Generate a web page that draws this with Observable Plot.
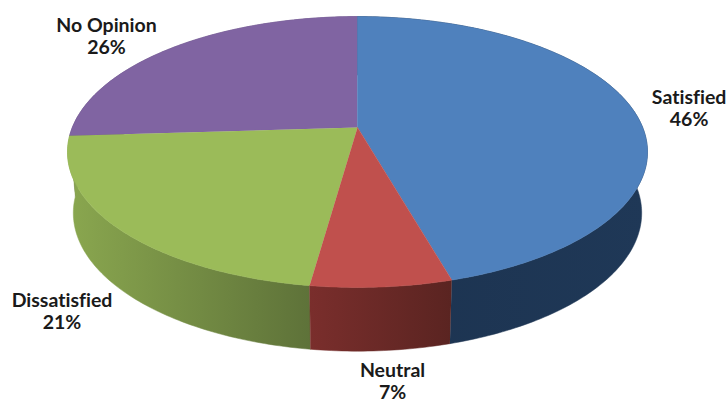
<!DOCTYPE html>
<html>
<head>
<meta charset="utf-8">
<style>html,body{margin:0;padding:0;background:#fff}svg{display:block}svg text{font-variant-ligatures:none}</style>
<script src="https://cdn.jsdelivr.net/npm/d3@7"></script>
<script src="https://cdn.jsdelivr.net/npm/@observablehq/plot@0.6"></script>
</head>
<body>
<div id="chart"></div>
<script>
// Data, clockwise from twelve o'clock
const categories = ["Satisfied", "Neutral", "Dissatisfied", "No Opinion"];
const labelValues = [46, 7, 21, 26];               // printed percentages
const sliceShares = [45.6, 6.6, 21.8, 26];         // slice sizes
const topColors = ["#4f81bd", "#c0504d", "#9bbb59", "#8064a2"];
const sideStops = [
  ["#1c3350", "#1f3857"],
  ["#7a2e2c", "#5a2421"],
  ["#8aa74f", "#5e7239"],
  ["#5f4a7a", "#5f4a7a"]
];

// Perspective view of the disc
const view = {cx: 357, cy: 127, a: 285.2, h: 131, k: 0.181,
              ellipseCy: 151.5, depthCy: 212.5, scaleX: 0.98, scaleY: 1.02};
const total = d3.sum(sliceShares);
const cuts = d3.cumsum([0, ...sliceShares]);

function topRim(share) {
  const t = (share / total) * 2 * Math.PI;
  const u = Math.sin(t), v = Math.cos(t), d = 1 + view.k * v;
  return {x: view.cx + view.a * u / d, y: view.cy - view.h * v / d};
}
function bottomRim(p) {
  return {x: view.cx + (p.x - view.cx) * view.scaleX,
          y: view.depthCy + (p.y - view.ellipseCy) * view.scaleY};
}
function arc(from, to) {
  const pts = [];
  const n = Math.max(2, Math.ceil((to - from) * 4));
  for (let i = 0; i <= n; ++i) pts.push(topRim(from + (to - from) * i / n));
  return pts;
}

const tops = categories.map((c, i) => [{x: view.cx, y: view.cy}, ...arc(cuts[i], cuts[i + 1])]);
const sides = categories.map((c, i) => {
  const a = arc(cuts[i], cuts[i + 1]);
  return [...a, ...a.slice().reverse().map(bottomRim)];
});

// Labels are anchored on the rim at each slice's mid-angle
const labelShift = [[56, -2], [11, 94], [-57, 82], [-66, -12]];
const labels = categories.map((c, i) => ({
  ...topRim(cuts[i] + sliceShares[i] / 2),
  text: `${c}\n${labelValues[i]}%`,
  dx: labelShift[i][0],
  dy: labelShift[i][1]
}));

const defs = () => {
  const ns = "http://www.w3.org/2000/svg";
  const d = document.createElementNS(ns, "defs");
  sideStops.forEach((stops, i) => {
    const g = document.createElementNS(ns, "linearGradient");
    g.setAttribute("id", `side${i}`);
    stops.forEach((color, j) => {
      const s = document.createElementNS(ns, "stop");
      s.setAttribute("offset", j);
      s.setAttribute("stop-color", color);
      g.appendChild(s);
    });
    d.appendChild(g);
  });
  return d;
};

const order = [3, 0, 2, 1];
const chart = Plot.plot({
  width: 727,
  height: 402,
  margin: 0,
  style: {background: "#fff"},
  x: {domain: [0, 727], range: [0, 727], axis: null},
  y: {domain: [0, 402], range: [0, 402], axis: null},
  marks: [
    defs,
    ...order.map(i => Plot.line(sides[i], {
      x: "x", y: "y", fill: `url(#side${i})`, stroke: `url(#side${i})`, strokeWidth: 0.5
    })),
    ...order.map(i => Plot.line(tops[i], {
      x: "x", y: "y", fill: topColors[i], stroke: topColors[i], strokeWidth: 0.5
    })),
    ...labels.map(l => Plot.text([l], {
      x: "x", y: "y", text: "text", dx: l.dx, dy: l.dy,
      fontFamily: "Lato", fontWeight: 700, fontSize: 19.5, lineHeight: 1.13,
      fill: "#1a1a1a", textAnchor: "middle"
    }))
  ]
});
document.getElementById("chart").appendChild(chart);
</script>
</body>
</html>
